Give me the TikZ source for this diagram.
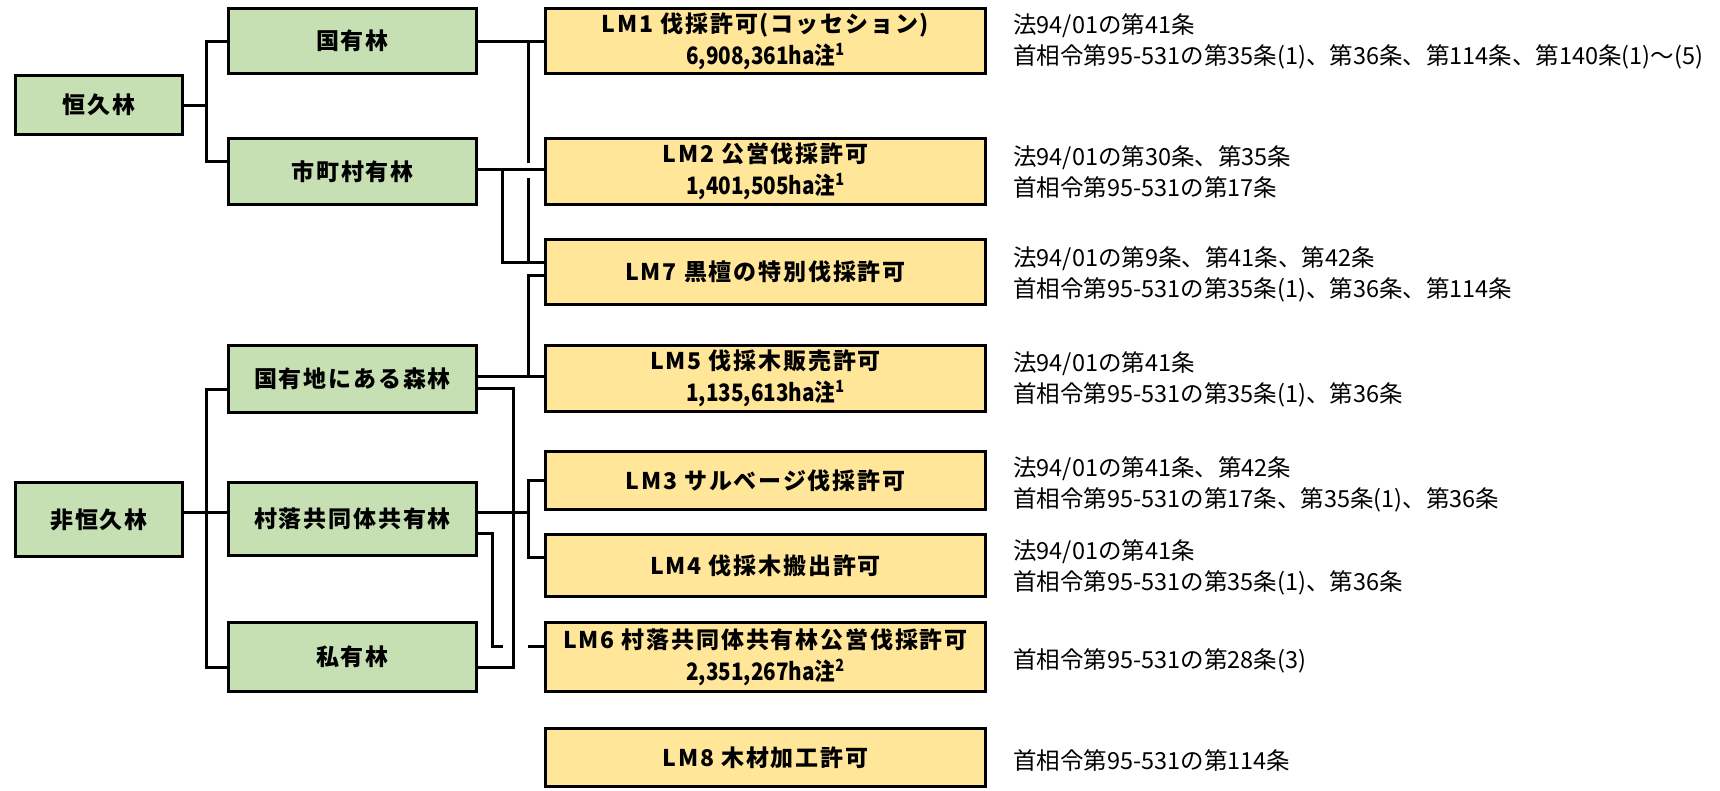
\documentclass[tikz,border=0pt]{standalone}
\usepackage{fontspec}
\newfontfamily\jpbox[LetterSpace=8]{Noto Sans CJK JP}
\newfontfamily\jpnum[FakeStretch=0.86]{Noto Sans CJK JP}
\newfontfamily\jptext{Noto Sans CJK JP}
\newcommand{\numline}[2]{{\jpnum\bfseries\fontsize{24}{32}\selectfont #1注\textsuperscript{#2}}}
\definecolor{boxgreen}{HTML}{C6E0B4}
\definecolor{boxyellow}{HTML}{FFE699}
\begin{document}
\begin{tikzpicture}[x=1pt,y=-1pt,
  conn/.style={line width=3pt},
  gbox/.style={draw, fill=boxgreen, line width=3pt, inner sep=0pt, align=center,
    font=\jpbox\bfseries\fontsize{23}{32}\selectfont},
  ybox/.style={draw, fill=boxyellow, line width=3pt, inner sep=0pt, align=center,
    minimum width=440pt, font=\jpbox\bfseries\fontsize{23}{32}\selectfont},
  lawtext/.style={anchor=west, align=left, inner sep=0pt,
    font=\jptext\fontsize{23.5}{31}\selectfont}]
\useasboundingbox (0,0) rectangle (1720,790);
% left column
\node[gbox, minimum width=167pt, minimum height=59pt] (k) at (99,105) {恒久林};
\node[gbox, minimum width=167pt, minimum height=74pt] (hk) at (99,519.5) {非恒久林};
% middle column
\node[gbox, minimum width=248pt, minimum height=65pt] (kuni) at (352.5,41) {国有林};
\node[gbox, minimum width=248pt, minimum height=66pt] (shi) at (352.5,171.5) {市町村有林};
\node[gbox, minimum width=248pt, minimum height=67pt] (kokuyu) at (352.5,379) {国有地にある森林};
\node[gbox, minimum width=248pt, minimum height=73pt] (sonraku) at (352.5,519) {村落共同体共有林};
\node[gbox, minimum width=248pt, minimum height=69pt] (shiyu) at (352.5,657) {私有林};
% right column
\node[ybox, minimum height=65pt] (lm1) at (765.5,41) {LM1 伐採許可(コッセション)\\\numline{6,908,361ha}{1}};
\node[ybox, minimum height=66pt] (lm2) at (765.5,171.5) {LM2 公営伐採許可\\\numline{1,401,505ha}{1}};
\node[ybox, minimum height=65pt] (lm7) at (765.5,272) {LM7 黒檀の特別伐採許可};
\node[ybox, minimum height=66pt] (lm5) at (765.5,378.5) {LM5 伐採木販売許可\\\numline{1,135,613ha}{1}};
\node[ybox, minimum height=58pt] (lm3) at (765.5,480.5) {LM3 サルベージ伐採許可};
\node[ybox, minimum height=62pt] (lm4) at (765.5,565.5) {LM4 伐採木搬出許可};
\node[ybox, minimum height=69pt] (lm6) at (765.5,657) {LM6 村落共同体共有林公営伐採許可\\\numline{2,351,267ha}{2}};
\node[ybox, minimum height=58pt] (lm8) at (765.5,757.5) {LM8 木材加工許可};
% law texts
\node[lawtext] (t1) at (1013,41) {法94/01の第41条\\首相令第95-531の第35条(1)、第36条、第114条、第140条(1)〜(5)};
\node[lawtext] (t2) at (1013,172) {法94/01の第30条、第35条\\首相令第95-531の第17条};
\node[lawtext] (t7) at (1013,274) {法94/01の第9条、第41条、第42条\\首相令第95-531の第35条(1)、第36条、第114条};
\node[lawtext] (t5) at (1013,379) {法94/01の第41条\\首相令第95-531の第35条(1)、第36条};
\node[lawtext] (t3) at (1013,484) {法94/01の第41条、第42条\\首相令第95-531の第17条、第35条(1)、第36条};
\node[lawtext] (t4) at (1013,567) {法94/01の第41条\\首相令第95-531の第35条(1)、第36条};
\node[lawtext] (t6) at (1013,661) {首相令第95-531の第28条(3)};
\node[lawtext] (t8) at (1013,760) {首相令第95-531の第114条};
% junction coordinates
\coordinate (a1) at (206,41);
\coordinate (a2) at (206,161);
\coordinate (a3) at (206,389);
\coordinate (a4) at (206,667);
% left brackets
\draw[conn] (kuni.west |- a1) -- (a1) -- (a2) -- (shi.west |- a2);
\draw[conn] (k.east |- 0,105) -- (206,105);
\draw[conn] (kokuyu.west |- a3) -- (a3) -- (a4) -- (shiyu.west |- a4);
\draw[conn] (hk.east |- 0,512) -- (sonraku.west |- 0,512);
% middle to right
\draw[conn] (kuni.east |- 0,41) -- (lm1.west |- 0,41);
\draw[conn] (528,41) -- (528,163);
\draw[conn] (528,178) -- (528,262);
\draw[conn] (shi.east |- 0,169) -- (lm2.west |- 0,169);
\draw[conn] (502,169) -- (502,262) -- (lm7.west |- 0,262);
\draw[conn] (lm7.west |- 0,275) -- (528,275) -- (528,376);
\draw[conn] (kokuyu.east |- 0,376) -- (lm5.west |- 0,376);
\draw[conn] (kokuyu.east |- 0,388) -- (513,388) -- (513,667) -- (shiyu.east |- 0,667);
\draw[conn] (sonraku.east |- 0,512) -- (528,512);
\draw[conn] (lm3.west |- 0,480) -- (528,480) -- (528,557) -- (lm4.west |- 0,557);
\draw[conn] (sonraku.east |- 0,533) -- (492,533) -- (492,646) -- (503,646);
\draw[conn] (528,646) -- (lm6.west |- 0,646);
\end{tikzpicture}
\end{document}
